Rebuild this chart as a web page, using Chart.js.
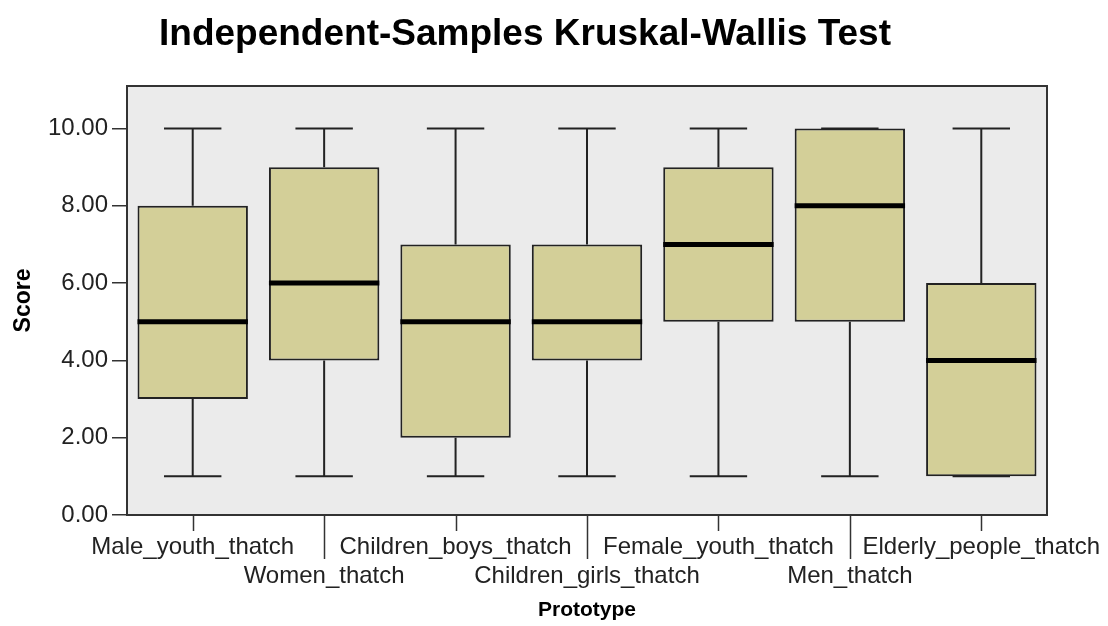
<!DOCTYPE html>
<html>
<head>
  <title>Independent-Samples Kruskal-Wallis Test</title>
  <script src="https://cdn.jsdelivr.net/npm/chart.js"></script>
  <style>
    body { margin: 0; background: #fff; }
  </style>
</head>
<body>
  <canvas id="chart" width="1108" height="626"></canvas>

  <script>
    // box plot values per prototype
    const categories = ['Male_youth_thatch', 'Women_thatch', 'Children_boys_thatch', 'Children_girls_thatch',
      'Female_youth_thatch', 'Men_thatch', 'Elderly_people_thatch'];
    const whiskerLow = [1, 1, 1, 1, 1, 1, 1];
    const q1 = [3, 4, 2, 4, 5, 5, 1];
    const median = [5, 6, 5, 5, 7, 8, 4];
    const q3 = [8, 9, 7, 7, 9, 10, 6];
    const whiskerHigh = [10, 10, 10, 10, 10, 10, 10];
    const yTicks = [0, 2, 4, 6, 8, 10];

    const FONT = "'Liberation Sans', Arial, sans-serif";

    const boxPlot = {
      id: 'boxPlot',
      beforeDatasetsDraw(chart) {
        const { ctx, chartArea: a, scales: { x, y } } = chart;
        ctx.save();
        ctx.fillStyle = '#ebebeb';
        ctx.fillRect(a.left, a.top, a.width, a.height);

        // whiskers go under the boxes
        const bars = chart.getDatasetMeta(0).data;
        ctx.strokeStyle = '#222';
        ctx.lineWidth = 2;
        categories.forEach((c, i) => {
          const cx = x.getPixelForValue(i);
          const half = bars[i].width * 0.26;
          ctx.beginPath();
          ctx.moveTo(cx, y.getPixelForValue(whiskerHigh[i]));
          ctx.lineTo(cx, y.getPixelForValue(q3[i]));
          ctx.moveTo(cx, y.getPixelForValue(whiskerLow[i]));
          ctx.lineTo(cx, y.getPixelForValue(q1[i]));
          ctx.moveTo(cx - half, y.getPixelForValue(whiskerHigh[i]));
          ctx.lineTo(cx + half, y.getPixelForValue(whiskerHigh[i]));
          ctx.moveTo(cx - half, y.getPixelForValue(whiskerLow[i]));
          ctx.lineTo(cx + half, y.getPixelForValue(whiskerLow[i]));
          ctx.stroke();
        });
        ctx.restore();
      },
      afterDatasetsDraw(chart) {
        const { ctx, scales: { y } } = chart;
        const bars = chart.getDatasetMeta(0).data;
        ctx.save();
        ctx.strokeStyle = '#000';
        ctx.lineWidth = 5;
        categories.forEach((c, i) => {
          const b = bars[i];
          const my = y.getPixelForValue(median[i]);
          ctx.beginPath();
          ctx.moveTo(b.x - b.width / 2, my);
          ctx.lineTo(b.x + b.width / 2, my);
          ctx.stroke();
        });
        ctx.restore();
      },
      afterDraw(chart) {
        const { ctx, chartArea: a, scales: { x } } = chart;
        ctx.save();
        ctx.strokeStyle = '#333';
        ctx.lineWidth = 2;
        ctx.strokeRect(a.left, a.top, a.width, a.height);

        // x tick marks, long ones point at the second label row
        ctx.lineWidth = 1.5;
        categories.forEach((c, i) => {
          const tx = Math.round(x.getPixelForTick(i)) + 0.5;
          ctx.beginPath();
          ctx.moveTo(tx, a.bottom);
          ctx.lineTo(tx, a.bottom + (i % 2 ? 44 : 16));
          ctx.stroke();
        });

        ctx.fillStyle = '#000';
        ctx.font = 'bold 37px ' + FONT;
        ctx.textAlign = 'center';
        ctx.textBaseline = 'middle';
        ctx.fillText('Independent-Samples Kruskal-Wallis Test', 525, 35);
        ctx.restore();
      }
    };

    new Chart(document.getElementById('chart'), {
      type: 'bar',
      data: {
        labels: categories,
        datasets: [{
          data: categories.map((c, i) => [q1[i], q3[i]]),
          backgroundColor: '#d3cf98',
          borderColor: '#222',
          borderWidth: 2,
          borderSkipped: false,
          barPercentage: 0.84,
          categoryPercentage: 1,
        }],
      },
      options: {
        responsive: false,
        animation: false,
        layout: { padding: { top: 86, right: 61, left: 0, bottom: 0 } },
        plugins: {
          legend: { display: false },
          tooltip: { enabled: false },
        },
        scales: {
          x: {
            grid: { display: false },
            border: { display: false },
            ticks: {
              autoSkip: false,
              maxRotation: 0,
              minRotation: 0,
              padding: 10,
              color: '#222',
              font: { family: FONT, size: 24, lineHeight: 1.2 },
              callback: (v, i) => i % 2 ? ['', categories[i]] : [categories[i]],
            },
            title: {
              display: true,
              text: 'Prototype',
              color: '#000',
              font: { family: FONT, size: 21, weight: 'bold' },
              padding: { top: 0, bottom: 3 },
            },
            afterFit(scale) {
              scale.height = 111;
              scale.paddingLeft = 0;
              scale.paddingRight = 0;
            },
          },
          y: {
            min: 0,
            max: 11.1,
            border: { display: false },
            grid: { drawOnChartArea: false, drawTicks: true, tickLength: 15, color: '#333', lineWidth: 1.5 },
            afterBuildTicks(scale) { scale.ticks = yTicks.map(v => ({ value: v })); },
            ticks: {
              padding: 4,
              color: '#222',
              font: { family: FONT, size: 24 },
              callback: v => v.toFixed(2),
            },
            title: {
              display: true,
              text: 'Score',
              color: '#000',
              font: { family: FONT, size: 23, weight: 'bold' },
              padding: { top: 10, bottom: 0 },
            },
            afterFit(scale) { scale.width = 127; },
          },
        },
      },
      plugins: [boxPlot],
    });
  </script>
</body>
</html>
